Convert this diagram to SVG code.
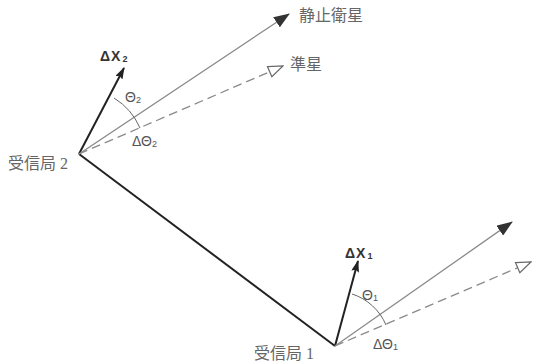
<svg xmlns="http://www.w3.org/2000/svg" width="533" height="364" viewBox="0 0 533 364">
<style>
.jp{font-family:"Liberation Serif","Noto Sans CJK JP",serif;font-size:16px;fill:#666}
.lb{font-family:"Liberation Sans",Arial,sans-serif;font-size:14px;font-weight:bold;fill:#333;letter-spacing:1px}
.lb2{font-family:"Liberation Sans",Arial,sans-serif;font-size:14px;fill:#555}
.sub{font-size:9px}
.base{stroke:#222;stroke-width:2;fill:none}
.vec{stroke:#222;stroke-width:2;fill:none}
.sat{stroke:#8a8a8a;stroke-width:1.3;fill:none}
.dash{stroke:#8a8a8a;stroke-width:1.3;fill:none;stroke-dasharray:9 5}
.arc{stroke:#666;stroke-width:1;fill:none}
</style>
<defs>
<marker id="hf" markerUnits="userSpaceOnUse" markerWidth="16" markerHeight="12" viewBox="0 0 16 12" refX="15" refY="6" orient="auto"><path d="M0,0 L16,6 L0,12 z" fill="#333"/></marker>
<marker id="hv" markerUnits="userSpaceOnUse" markerWidth="12" markerHeight="8" viewBox="0 0 12 8" refX="11" refY="4" orient="auto"><path d="M0,0 L12,4 L0,8 L2,4 z" fill="#222"/></marker>
<marker id="ho" markerUnits="userSpaceOnUse" markerWidth="17" markerHeight="13" viewBox="0 0 17 13" refX="15.5" refY="6.5" orient="auto"><path d="M1,1 L15.5,6.5 L1,12 z" fill="#fff" stroke="#666" stroke-width="1.2"/></marker>
</defs>
<g id="connectors">
<line class="base" x1="79" y1="154" x2="335" y2="346"/>
<line class="vec" x1="79" y1="154" x2="124" y2="68" marker-end="url(#hv)"/>
<line class="sat" x1="79" y1="154" x2="289" y2="14" marker-end="url(#hf)"/>
<line class="dash" x1="79" y1="154" x2="283" y2="66" marker-end="url(#ho)"/>
<path class="arc" d="M114,98 A66,66 0 0 1 140,128"/>
<line class="vec" x1="335" y1="346" x2="358" y2="261" marker-end="url(#hv)"/>
<line class="sat" x1="335" y1="346" x2="512" y2="222" marker-end="url(#hf)"/>
<line class="dash" x1="335" y1="346" x2="531" y2="262" marker-end="url(#ho)"/>
<path class="arc" d="M352,294 A55,55 0 0 1 386,325"/>
</g>
<g id="station2">
<text class="jp" x="8" y="169">受信局 2</text>
<text class="lb" x="100" y="61">ΔX<tspan class="sub" dx="1" dy="1">2</tspan></text>
<text class="lb2" x="125" y="102">Θ<tspan class="sub" dy="1">2</tspan></text>
<text class="lb2" x="132" y="146">ΔΘ<tspan class="sub" dy="1">2</tspan></text>
</g>
<g id="station1">
<text class="jp" x="254" y="359">受信局 1</text>
<text class="lb" x="345" y="258">ΔX<tspan class="sub" dx="1" dy="1">1</tspan></text>
<text class="lb2" x="362" y="300">Θ<tspan class="sub" dy="1">1</tspan></text>
<text class="lb2" x="373" y="349">ΔΘ<tspan class="sub" dy="1">1</tspan></text>
</g>
<g id="geo">
<text class="jp" x="299" y="21">静止衛星</text>
</g>
<g id="quasar">
<text class="jp" x="290" y="70">準星</text>
</g>
</svg>
